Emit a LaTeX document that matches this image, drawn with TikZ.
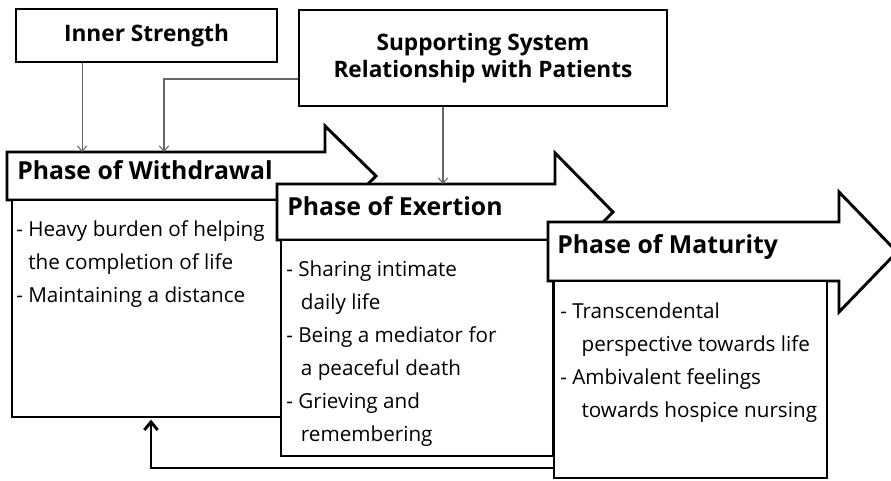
\documentclass[tikz,border=0pt]{standalone}
\usepackage{fontspec}
\setmainfont{Open Sans}
\usetikzlibrary{calc}
\usetikzlibrary{arrows.meta}

\begin{document}
\begin{tikzpicture}[x=0.75pt,y=-0.75pt,
    topbox/.style={draw,line width=2.2pt,fill=white,align=center,
        font=\bfseries\fontsize{17}{20.25}\selectfont},
    phase/.style={draw,line width=2.2pt,fill=white,line join=miter},
    headtext/.style={anchor=base west,inner sep=0pt,
        font=\bfseries\fontsize{18.6}{20}\selectfont},
    bodybox/.style={draw,line width=2.2pt,fill=white,anchor=north west,
        inner sep=0pt,outer sep=0pt},
    bodytext/.style={anchor=base west,inner sep=0pt,align=left,
        font=\fontsize{15.5}{24.75}\selectfont},
    link/.style={draw=black!60,line width=0.8pt,-{Straight Barb[length=4pt,width=7pt]}},
    back/.style={line width=2.2pt,shorten >=2pt,-{Straight Barb[length=6pt,width=10pt]}}]
    \useasboundingbox (0,0) rectangle (891,480);
    \clip (0,0) rectangle (891,480);
    \fill[white] (0,0) rectangle (891,480);
    % influencing factors
    \node[topbox,minimum width=195.75pt,minimum height=39.75pt] (inner) at (146.5,35.5) {Inner Strength};
    \node[topbox,minimum width=276pt,minimum height=72pt] (support) at (483,58)
        {Supporting System\\Relationship with Patients};
    % phase of withdrawal
    \draw[phase] (7,152) -- (325,152) -- (325,126) -- (376,176) -- (325,226) -- (325,200) -- (7,200) -- cycle;
    \coordinate (wdtop) at (7,152);
    \node[headtext] (wdhead) at (17,179) {Phase of Withdrawal};
    \node[bodybox,minimum width=238.5pt,minimum height=162.75pt] (wdbody) at (12,200) {};
    \node[bodytext] (wdtext) at (16,302)
        {- Heavy burden of helping\\\hspace*{9pt}the completion of life\\- Maintaining a distance};
    % phase of exertion
    \draw[phase] (277,184) -- (555,184) -- (555,153) -- (613,212) -- (555,271) -- (555,240) -- (277,240) -- cycle;
    \coordinate (extop) at (277,184);
    \node[headtext] (exhead) at (287,215) {Phase of Exertion};
    \node[bodybox,minimum width=204pt,minimum height=162pt] (exbody) at (281,240) {};
    \node[bodytext] (extext) at (286,441)
        {- Sharing intimate\\\hspace*{11pt}daily life\\- Being a mediator for\\\hspace*{11pt}a peaceful death\\- Grieving and\\\hspace*{11pt}remembering};
    % phase of maturity
    \draw[back] (0,468 -| 554,0) -| (151,0 |- wdbody.south);
    \draw[phase] (548,222) -- (839,222) -- (839,192) -- (897,252) -- (839,312) -- (839,281) -- (548,281) -- cycle;
    \node[headtext] (mahead) at (557,253) {Phase of Maturity};
    \node[bodybox,minimum width=204.75pt,minimum height=147.75pt] (mabody) at (554,281) {};
    \node[bodytext] (matext) at (560,417)
        {- Transcendental\\\hspace*{16pt}perspective towards life\\- Ambivalent feelings\\\hspace*{16pt}towards hospice nursing};
    % links
    \draw[link] ($(inner.south west)!0.256!(inner.south east)$) coordinate (p1) -- (p1 |- wdtop);
    \draw[link] (0,79 -| support.west) -| (164,0 |- wdtop);
    \draw[link] (443,0 |- support.south) -- (443,0 |- extop);
\end{tikzpicture}
\end{document}
